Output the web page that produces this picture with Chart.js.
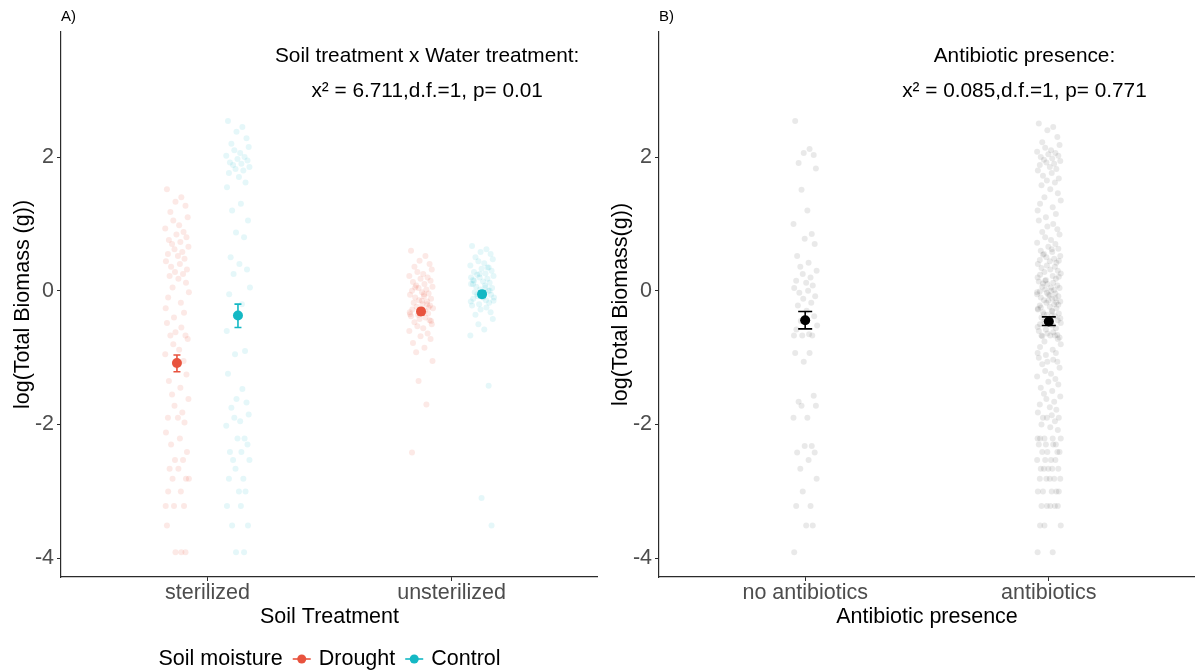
<!DOCTYPE html>
<html><head><meta charset="utf-8">
<script src="https://cdn.jsdelivr.net/npm/chart.js@4.4.1/dist/chart.umd.min.js"></script>
<style>
html,body{margin:0;padding:0;background:#fff;width:1195px;height:672px;overflow:hidden}
#wa{position:absolute;left:0;top:0;width:598px;height:672px}
#wb{position:absolute;left:598px;top:0;width:597px;height:672px}
canvas{display:block}
</style></head><body>
<div id="wa"><canvas id="ca" width="598" height="672"></canvas></div>
<div id="wb"><canvas id="cb" width="597" height="672"></canvas></div>
<script>
// ---------- data ----------
const SOIL_CATEGORIES = ['sterilized', 'unsterilized'];
const ANTIBIOTIC_CATEGORIES = ['no antibiotics', 'antibiotics'];
const MOISTURE_SERIES = ['Drought', 'Control'];
const LEGEND_TITLE = 'Soil moisture';
const Y_TICKS = [-4, -2, 0, 2];

const STERILIZED_DROUGHT = [1.52, 1.40, 1.33, 1.27, 1.18, 1.10, 1.05, 0.98, 0.93, 0.88, 0.84, 0.80, 0.76, 0.73, 0.70, 0.66, 0.62, 0.58, 0.55, 0.52, 0.48, 0.44, 0.40, 0.36, 0.32, 0.28, 0.25, 0.22, 0.18, 0.12, 0.05, -0.02, -0.10, -0.18, -0.26, -0.33, -0.40, -0.48, -0.55, -0.62, -0.67, -0.67, -0.72, -0.80, -0.88, -0.95, -1.05, -1.12, -1.25, -1.35, -1.45, -1.55, -1.62, -1.72, -1.82, -1.90, -1.90, -1.97, -2.12, -2.21, -2.30, -2.41, -2.53, -2.53, -2.66, -2.66, -2.81, -2.81, -2.81, -3.00, -3.00, -3.22, -3.22, -3.22, -3.51, -3.91, -3.91, -3.91];
const STERILIZED_CONTROL = [2.54, 2.45, 2.38, 2.28, 2.20, 2.15, 2.10, 2.06, 2.02, 2.00, 1.97, 1.95, 1.92, 1.90, 1.88, 1.85, 1.82, 1.80, 1.76, 1.70, 1.62, 1.55, 1.30, 1.20, 1.05, 0.87, 0.80, 0.50, 0.40, 0.32, 0.25, 0.05, -0.05, -0.20, -0.60, -0.90, -0.95, -1.24, -1.47, -1.62, -1.67, -1.75, -1.85, -1.90, -1.95, -2.02, -2.21, -2.21, -2.30, -2.41, -2.41, -2.53, -2.53, -2.66, -2.81, -2.81, -3.00, -3.00, -3.22, -3.22, -3.51, -3.51, -3.91, -3.91];
const UNSTERILIZED_DROUGHT = [0.60, 0.52, 0.45, 0.40, 0.36, 0.32, 0.28, 0.25, 0.22, 0.20, 0.18, 0.15, 0.13, 0.10, 0.08, 0.06, 0.04, 0.02, 0.00, -0.02, -0.04, -0.06, -0.08, -0.10, -0.12, -0.14, -0.16, -0.18, -0.20, -0.22, -0.24, -0.26, -0.28, -0.30, -0.32, -0.34, -0.36, -0.38, -0.40, -0.42, -0.44, -0.47, -0.50, -0.53, -0.56, -0.60, -0.64, -0.68, -0.72, -0.78, -0.85, -0.92, -1.05, -1.35, -1.70, -2.42, -0.15, -0.25, -0.35, -0.05, 0.05, -0.45, -0.30, -0.20];
const UNSTERILIZED_CONTROL = [0.67, 0.62, 0.58, 0.55, 0.50, 0.47, 0.44, 0.41, 0.38, 0.35, 0.33, 0.30, 0.28, 0.26, 0.24, 0.22, 0.20, 0.18, 0.16, 0.14, 0.12, 0.10, 0.08, 0.06, 0.04, 0.02, 0.00, -0.02, -0.04, -0.06, -0.08, -0.10, -0.12, -0.14, -0.16, -0.18, -0.20, -0.22, -0.25, -0.28, -0.32, -0.36, -0.42, -0.50, -0.58, -0.67, -1.42, -3.10, -3.51, 0.15, 0.05, -0.05, -0.15, 0.25, 0.35, 0.10, -0.10, 0.00, 0.20];
const NO_ANTIBIOTICS = [2.54, 2.12, 2.06, 2.03, 1.91, 1.83, 1.51, 1.20, 1.00, 0.85, 0.78, 0.70, 0.52, 0.42, 0.36, 0.30, 0.25, 0.20, 0.15, 0.12, 0.08, 0.04, 0.00, -0.03, -0.08, -0.12, -0.18, -0.22, -0.30, -0.38, -0.45, -0.52, -0.58, -0.65, -0.67, -0.67, -0.67, -0.93, -0.93, -1.06, -1.57, -1.66, -1.72, -1.72, -1.90, -1.90, -2.32, -2.32, -2.42, -2.42, -2.53, -2.66, -2.81, -3.00, -3.22, -3.22, -3.51, -3.51, -3.91];
const ANTIBIOTICS = [2.50, 2.45, 2.40, 2.30, 2.22, 2.18, 2.14, 2.10, 2.08, 2.06, 2.04, 2.02, 2.00, 1.98, 1.96, 1.94, 1.92, 1.90, 1.88, 1.85, 1.82, 1.80, 1.76, 1.72, 1.68, 1.65, 1.62,
  1.58, 1.52, 1.46, 1.40, 1.35, 1.30, 1.25, 1.20,
  1.15, 1.10, 1.05, 1.00, 0.96, 0.92, 0.88, 0.84, 0.80, 0.76, 0.72, 0.70,
  0.66, 0.63, 0.60, 0.58, 0.55, 0.52, 0.50, 0.48, 0.46, 0.44, 0.42, 0.40, 0.62, 0.54, 0.45,
  0.38, 0.36, 0.34, 0.32, 0.30, 0.28, 0.26, 0.24, 0.22, 0.20, 0.18, 0.16, 0.14, 0.12, 0.10, 0.08, 0.06, 0.04, 0.02, 0.00, -0.02, -0.04, -0.06, -0.08, -0.10, -0.12, -0.14, -0.16, -0.18, -0.20, -0.22, -0.24, -0.26, -0.28, -0.30, -0.32, -0.34, -0.36, -0.38, -0.40, -0.42, -0.44, -0.46, -0.48, -0.50, -0.52, -0.54, -0.56, -0.58, -0.60, -0.62, -0.64, -0.66, -0.68, -0.70,
  0.15, 0.05, -0.05, -0.11, -0.15, -0.21, -0.25, -0.31, -0.35, -0.41, -0.45, 0.01, -0.01, -0.07, -0.17, -0.27, -0.37, 0.11, 0.21, -0.03,
  -0.67, -0.67, -0.67, -0.72, -0.76, -0.80, -0.84, -0.88, -0.93, -0.93, -0.96, -1.00, -1.03, -1.06, -1.06, -1.10,
  -1.15, -1.20, -1.24, -1.28, -1.32, -1.36, -1.40, -1.45, -1.50, -1.54, -1.58, -1.62, -1.66, -1.70, -1.74, -1.78, -1.82, -1.86, -1.90, -1.90, -1.90, -1.95, -2.00, -2.04, -2.08,
  -2.21, -2.21, -2.21, -2.21, -2.21, -2.30, -2.30, -2.30, -2.30, -2.41, -2.41, -2.41, -2.41, -2.53, -2.53, -2.53, -2.53, -2.66, -2.66, -2.66, -2.66, -2.66, -2.81, -2.81, -2.81, -2.81, -2.81, -3.00, -3.00, -3.00, -3.00, -3.00, -3.22, -3.22, -3.22, -3.22, -3.22, -3.51, -3.51, -3.51, -3.91, -3.91];

// group means and error-bar limits (per category)
const DROUGHT_MEAN = [-1.08, -0.31];
const DROUGHT_LOW = [-1.21, -0.36];
const DROUGHT_HIGH = [-0.96, -0.26];
const CONTROL_MEAN = [-0.37, -0.05];
const CONTROL_LOW = [-0.55, -0.10];
const CONTROL_HIGH = [-0.20, 0.00];
const ANTIBIOTIC_MEAN = [-0.44, -0.46];
const ANTIBIOTIC_LOW = [-0.57, -0.52];
const ANTIBIOTIC_HIGH = [-0.31, -0.39];

// horizontal jitter offsets (category units), read as a fixed sequence
const JITTER = [-0.041, 0.018, -0.006, 0.035, -0.027, 0.044, -0.015, 0.009, -0.048, 0.027, -0.002, 0.039, -0.033, 0.014, -0.020, 0.047, -0.010, 0.022, -0.037, 0.004, 0.031, -0.045, 0.012, -0.024, 0.041, -0.008, 0.025, -0.030, 0.006, 0.037, -0.018, 0.049, -0.036, 0.016, -0.046, 0.029, -0.012];

const ANNOTATION_A = ['Soil treatment x Water treatment:', 'x\u00B2 = 6.711,d.f.=1, p= 0.01'];
const ANNOTATION_B = ['Antibiotic presence:', 'x\u00B2 = 0.085,d.f.=1, p= 0.771'];

// ---------- styling ----------
const FONT = "'Liberation Sans', Arial, Helvetica, sans-serif";
const FS = 21.5;
const FS_NOTE = 20.8;
const TICK_COLOR = '#4d4d4d';
const AXIS_COLOR = '#2b2b2b';
const RED = '#E8533E', CYAN = '#14B8C4';
const DODGE = 0.125;

function jitterSet(values, center, color) {
  return { type: 'scatter', order: 2,
    data: values.map((y, i) => ({ x: center + JITTER[i % JITTER.length], y })),
    backgroundColor: color, borderWidth: 0, pointRadius: 3, pointHoverRadius: 3 };
}
function meanSet(means, low, high, offset, color, capHalf) {
  return { type: 'scatter', order: 0,
    data: means.map((y, i) => ({ x: i + 1 + offset, y })),
    backgroundColor: color, borderWidth: 0, pointRadius: 5, pointHoverRadius: 5,
    errLow: low, errHigh: high, errColor: color, capHalf };
}

const errorBarPlugin = {
  id: 'errbars',
  beforeDatasetDraw(chart, args) {
    const ds = chart.data.datasets[args.index];
    if (!ds.errLow) return;
    const { ctx, scales: { x, y } } = chart;
    ctx.save();
    ctx.strokeStyle = ds.errColor; ctx.lineWidth = 1.6;
    ds.data.forEach((p, i) => {
      const px = x.getPixelForValue(p.x);
      const yl = y.getPixelForValue(ds.errLow[i]);
      const yh = y.getPixelForValue(ds.errHigh[i]);
      ctx.beginPath();
      ctx.moveTo(px, yl); ctx.lineTo(px, yh);
      ctx.moveTo(px - ds.capHalf, yl); ctx.lineTo(px + ds.capHalf, yl);
      ctx.moveTo(px - ds.capHalf, yh); ctx.lineTo(px + ds.capHalf, yh);
      ctx.stroke();
    });
    ctx.restore();
  }
};

function textPlugin(tag, lines, withLegend) {
  return {
    id: 'texts',
    afterDraw(chart) {
      const { ctx, scales: { x, y }, chartArea } = chart;
      ctx.save();
      ctx.fillStyle = '#000';
      ctx.textBaseline = 'middle';
      ctx.font = `15px ${FONT}`; ctx.textAlign = 'left';
      ctx.fillText(tag, chartArea.left, 17);
      ctx.font = `${FS_NOTE}px ${FONT}`; ctx.textAlign = 'center';
      ctx.fillText(lines[0], x.getPixelForValue(1.9), y.getPixelForValue(3.5));
      ctx.fillText(lines[1], x.getPixelForValue(1.9), y.getPixelForValue(3.0) + 1);
      if (withLegend) {
        ctx.font = `${FS}px ${FONT}`;
        const cols = [RED, CYAN];
        const y0 = 659, keyW = 18, gapA = 10, gapB = 8;
        ctx.textAlign = 'left';
        let total = ctx.measureText(LEGEND_TITLE).width;
        MOISTURE_SERIES.forEach(s => { total += gapA + keyW + gapB + ctx.measureText(s).width; });
        let cx = (chartArea.left + chartArea.right) / 2 - total / 2;
        ctx.fillText(LEGEND_TITLE, cx, y0);
        cx += ctx.measureText(LEGEND_TITLE).width;
        MOISTURE_SERIES.forEach((s, i) => {
          cx += gapA;
          ctx.strokeStyle = cols[i]; ctx.fillStyle = cols[i]; ctx.lineWidth = 1.6;
          ctx.beginPath(); ctx.moveTo(cx, y0); ctx.lineTo(cx + keyW, y0); ctx.stroke();
          ctx.beginPath(); ctx.arc(cx + keyW / 2, y0, 4.5, 0, Math.PI * 2); ctx.fill();
          cx += keyW + gapB;
          ctx.fillStyle = '#000';
          ctx.fillText(s, cx, y0);
          cx += ctx.measureText(s).width;
        });
      }
      ctx.restore();
    }
  };
}

function axisCommon() {
  return {
    grid: { display: true, drawOnChartArea: false, drawTicks: true, tickLength: 4, color: AXIS_COLOR, tickColor: AXIS_COLOR, tickWidth: 1 },
    border: { display: true, color: AXIS_COLOR, width: 1.2 }
  };
}

function makeChart(canvasId, datasets, cats, xTitle, yTitle, tag, lines, withLegend) {
  return new Chart(document.getElementById(canvasId), {
    type: 'scatter',
    data: { datasets },
    options: {
      responsive: false, animation: false, devicePixelRatio: 1, events: [],
      layout: { autoPadding: false, padding: { left: 0, right: 0, top: 32, bottom: 42 } },
      plugins: { legend: { display: false }, tooltip: { enabled: false } },
      scales: {
        x: Object.assign(axisCommon(), {
          type: 'linear', min: 0.4, max: 2.6,
          afterBuildTicks: s => { s.ticks = [1, 2].map(v => ({ value: v })); },
          afterFit: s => { s.height = 53; },
          ticks: { color: TICK_COLOR, font: { family: FONT, size: FS, lineHeight: 1 }, padding: 1, maxRotation: 0, autoSkip: false,
            callback: v => cats[Math.round(v) - 1] },
          title: { display: true, text: xTitle, color: '#000', font: { family: FONT, size: FS }, padding: { top: 0, bottom: 0 } }
        }),
        y: Object.assign(axisCommon(), {
          type: 'linear', min: -4.28, max: 3.87,
          afterBuildTicks: s => { s.ticks = Y_TICKS.map(v => ({ value: v })); },
          afterFit: s => { s.width = 61; },
          ticks: { color: TICK_COLOR, font: { family: FONT, size: FS, lineHeight: 1 }, padding: 3, callback: v => String(v) },
          title: { display: true, text: yTitle, color: '#000', font: { family: FONT, size: FS }, padding: { top: 10, bottom: 0 } }
        })
      }
    },
    plugins: [errorBarPlugin, textPlugin(tag, lines, withLegend)]
  });
}

const redA = 'rgba(232,83,62,0.13)', cyanA = 'rgba(20,184,196,0.11)', grayA = 'rgba(0,0,0,0.085)';

makeChart('ca', [
  meanSet(DROUGHT_MEAN, DROUGHT_LOW, DROUGHT_HIGH, -DODGE, RED, 3.5),
  meanSet(CONTROL_MEAN, CONTROL_LOW, CONTROL_HIGH, DODGE, CYAN, 3.5),
  jitterSet(STERILIZED_DROUGHT, 1 - DODGE, redA),
  jitterSet(UNSTERILIZED_DROUGHT, 2 - DODGE, redA),
  jitterSet(STERILIZED_CONTROL, 1 + DODGE, cyanA),
  jitterSet(UNSTERILIZED_CONTROL, 2 + DODGE, cyanA)
], SOIL_CATEGORIES, 'Soil Treatment', 'log(Total Biomass (g))', 'A)', ANNOTATION_A, true);

makeChart('cb', [
  meanSet(ANTIBIOTIC_MEAN, ANTIBIOTIC_LOW, ANTIBIOTIC_HIGH, 0, '#000', 7),
  jitterSet(NO_ANTIBIOTICS, 1, grayA),
  jitterSet(ANTIBIOTICS, 2, grayA)
], ANTIBIOTIC_CATEGORIES, 'Antibiotic presence', 'log(Total Biomass(g))', 'B)', ANNOTATION_B, false);
</script>
</body></html>
